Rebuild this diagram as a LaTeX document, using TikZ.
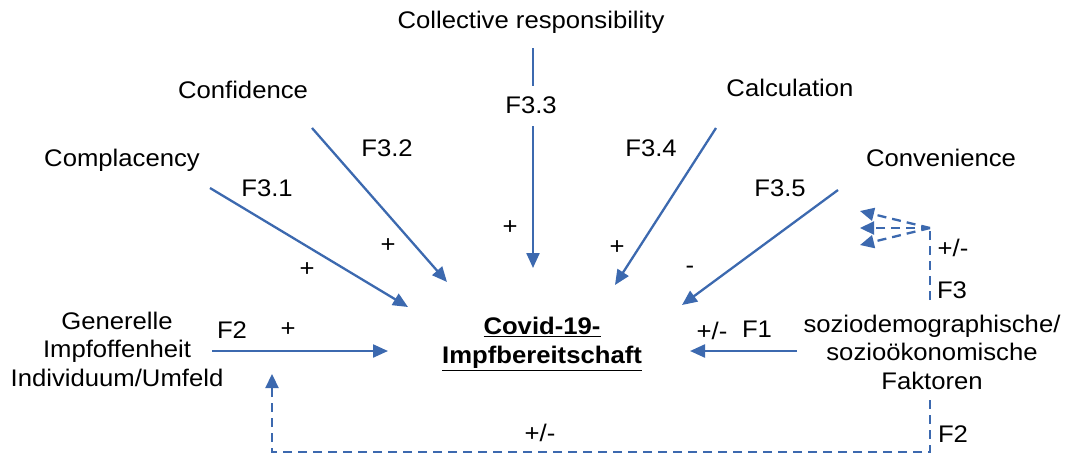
\documentclass[tikz,border=0pt]{standalone}
\usepackage{fontspec}
\setmainfont{Liberation Sans}
\usetikzlibrary{arrows.meta}
\definecolor{arr}{RGB}{60,105,175}
\begin{document}
\begin{tikzpicture}[x=1pt,y=-1pt,
  lbl/.style={font=\fontsize{24}{28.5}\selectfont, inner sep=1pt, align=center, xscale=1.07, transform shape},
  conn/.style={draw=arr, line width=2.3pt, -{Triangle[length=15pt,width=13pt]}},
  dconn/.style={draw=arr, line width=2.3pt, dash pattern=on 9pt off 6pt, -{Triangle[length=14pt,width=13pt]}},
  dline/.style={draw=arr, line width=2.3pt, dash pattern=on 9pt off 6pt}]
\useasboundingbox (0,0) rectangle (1070,456);
% texts
\node[lbl] (coll) at (531,22) {Collective responsibility};
\node[lbl] (conf) at (243,90) {Confidence};
\node[lbl] (calc) at (790,88) {Calculation};
\node[lbl] (compl) at (122,160) {Complacency};
\node[lbl] (conv) at (941,158) {Convenience};
\node[lbl] (gen) at (117,349) {Generelle\\Impfoffenheit\\Individuum/Umfeld};
\node[lbl, font=\fontsize{24}{28.5}\selectfont\bfseries] (covid) at (542,344) {\underline{Covid-19-}\\\underline{Impfbereitschaft}};
\node[lbl] (sozio) at (932,352) {soziodemographische/\\sozioökonomische\\Faktoren};
% labels
\node[lbl] (f33) at (531,105) {F3.3};
\node[lbl] (f32) at (387,148) {F3.2};
\node[lbl] (f34) at (651,148) {F3.4};
\node[lbl] (f31) at (267,188) {F3.1};
\node[lbl] (f35) at (780,188) {F3.5};
\node[lbl] (p33) at (510,228) {+};
\node[lbl] (p32) at (388,246) {+};
\node[lbl] (p34) at (617,248) {+};
\node[lbl] (p31) at (307,270) {+};
\node[lbl] (m35) at (690,270) {-};
\node[lbl] (f2a) at (232,330) {F2};
\node[lbl] (p2) at (288,330) {+};
\node[lbl] (pm1) at (712,331) {+/-};
\node[lbl] (f1) at (757,329) {F1};
\node[lbl] (pm3) at (953,248) {+/-};
\node[lbl] (f3) at (952,290) {F3};
\node[lbl] (f2b) at (953,434) {F2};
\node[lbl] (pm2) at (540,433) {+/-};
% coordinates
\coordinate (c1s) at (533,48);
\coordinate (c1m) at (533,86);
\coordinate (c1n) at (533,126);
\coordinate (c1e) at (533,268);
\coordinate (c2s) at (312,128);
\coordinate (c2e) at (447,282);
\coordinate (c3s) at (210,188);
\coordinate (c3e) at (408,307);
\coordinate (c4s) at (716,128);
\coordinate (c4e) at (615,285);
\coordinate (c5s) at (838,190);
\coordinate (c5e) at (682,305);
\coordinate (g1s) at (212,351);
\coordinate (g1e) at (388,351);
\coordinate (s1s) at (797,351);
\coordinate (s1e) at (690,351);
\coordinate (b1) at (930,400);
\coordinate (b2) at (930,452);
\coordinate (b3) at (272,452);
\coordinate (b4) at (272,374);
\coordinate (r1) at (930,300);
\coordinate (r2) at (930,228);
\coordinate (ra) at (860,211);
\coordinate (rb) at (860,228);
\coordinate (rc) at (860,245);
% connectors
\draw[draw=arr, line width=2.3pt] (c1s) -- (c1m);
\draw[conn] (c1n) -- (c1e);
\draw[conn] (c2s) -- (c2e);
\draw[conn] (c3s) -- (c3e);
\draw[conn] (c4s) -- (c4e);
\draw[conn] (c5s) -- (c5e);
\draw[conn] (g1s) -- (g1e);
\draw[conn] (s1s) -- (s1e);
\draw[dconn] (b1) -- (b2) -- (b3) -- (b4);
\draw[dline] (r1) -- (r2);
\draw[dconn] (r2) -- (ra);
\draw[dconn] (r2) -- (rb);
\draw[dconn] (r2) -- (rc);
\end{tikzpicture}
\end{document}
